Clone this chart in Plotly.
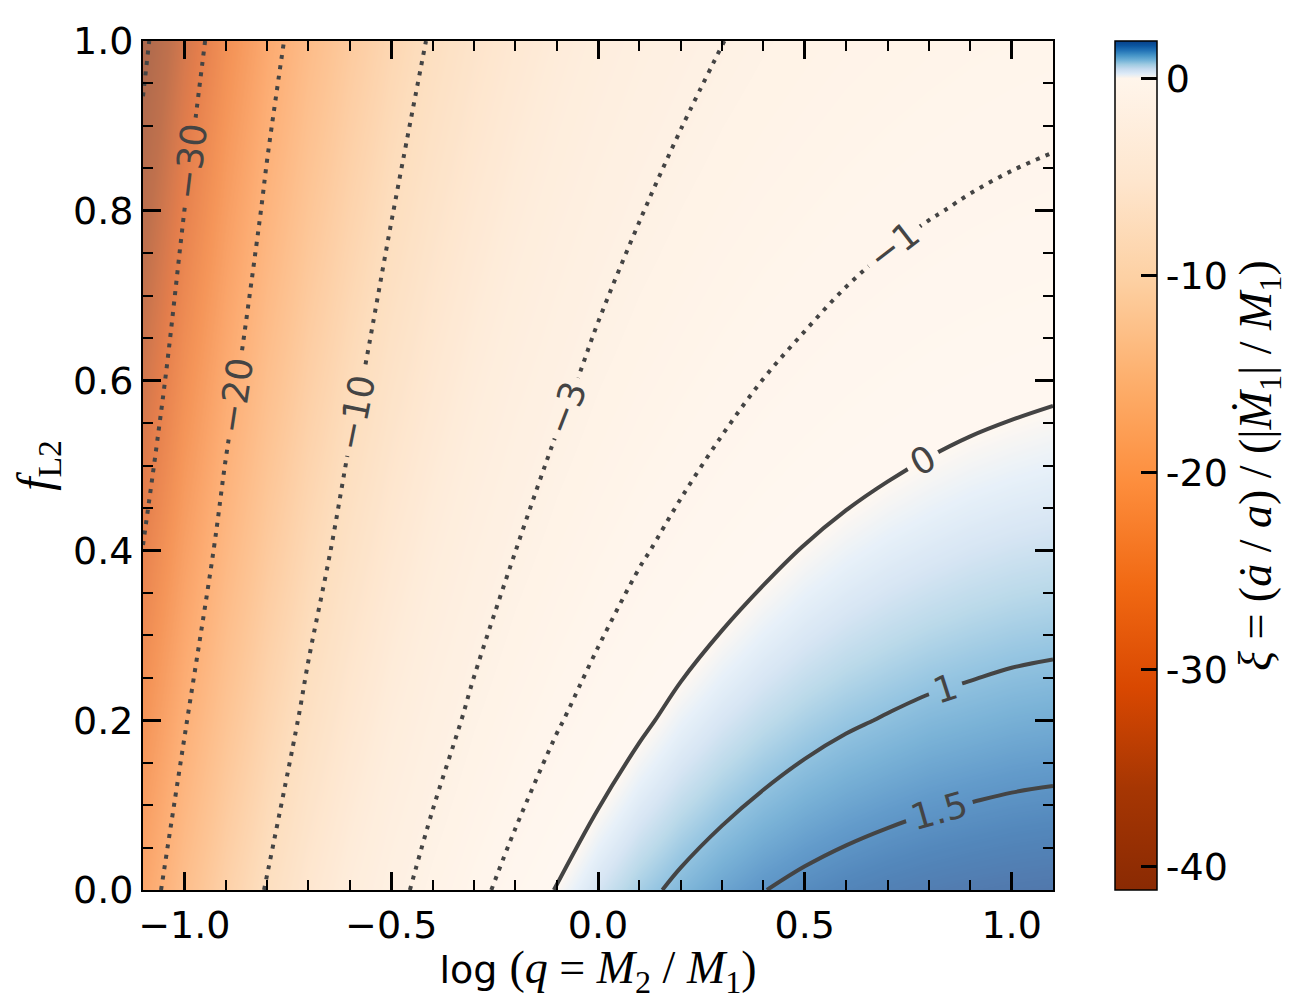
import plotly.graph_objects as go

# grid: columns = log q, rows = f_L2
log_q = [-1.1, -1.0, -0.9, -0.8, -0.7, -0.6, -0.5, -0.4, -0.3, -0.2, -0.1, 0.0,
         0.1, 0.2, 0.3, 0.4, 0.5, 0.6, 0.7, 0.8, 0.9, 1.0, 1.1]
f_l2 = [0.0, 0.2, 0.4, 0.6, 0.8, 1.0]

xi_f00 = [-22.25, -17.09, -13.00, -9.76, -7.19, -5.16, -3.57, -2.31, -1.32, -0.56, 0.04, 0.50,
          0.85, 1.12, 1.33, 1.49, 1.61, 1.70, 1.77, 1.82, 1.86, 1.89, 1.91]
xi_f02 = [-26.07, -20.32, -15.76, -12.14, -9.27, -7.00, -5.20, -3.78, -2.66, -1.78, -1.09, -0.55,
          -0.13, 0.21, 0.46, 0.66, 0.82, 0.94, 1.03, 1.11, 1.16, 1.21, 1.24]
xi_f04 = [-29.88, -23.55, -18.52, -14.52, -11.35, -8.83, -6.84, -5.25, -4.00, -3.01, -2.22, -1.60,
          -1.10, -0.72, -0.41, -0.17, 0.03, 0.18, 0.30, 0.39, 0.47, 0.53, 0.57]
xi_f06 = [-33.70, -26.77, -21.27, -16.90, -13.43, -10.67, -8.47, -6.73, -5.34, -4.23, -3.35, -2.64,
          -2.08, -1.64, -1.28, -0.99, -0.77, -0.58, -0.44, -0.32, -0.23, -0.16, -0.10]
xi_f08 = [-37.51, -30.00, -24.03, -19.29, -15.51, -12.51, -10.11, -8.20, -6.67, -5.45, -4.48, -3.69,
          -3.06, -2.56, -2.15, -1.82, -1.56, -1.34, -1.17, -1.04, -0.93, -0.84, -0.77]
xi_f10 = [-41.20, -33.23, -26.79, -21.67, -17.59, -14.34, -11.75, -9.67, -8.01, -6.68, -5.61, -4.74,
          -4.04, -3.48, -3.02, -2.65, -2.35, -2.10, -1.91, -1.75, -1.62, -1.52, -1.44]
xi = [xi_f00, xi_f02, xi_f04, xi_f06, xi_f08, xi_f10]

levels = [-40, -30, -20, -10, -3, -1, 0, 1, 1.5]
cbar_ticks = [0, -10, -20, -30, -40]
cbar_labels = ['0', '-10', '-20', '-30', '-40']

zmin, zmax = -41.2, 1.9

SERIF = 'Liberation Serif'
LINE = '#444444'

# two-slope colour map: Oranges below zero, Blues above
oranges = ['#8a2a03', '#a63603', '#d94801', '#f16913', '#fd8d3c',
           '#fdae6b', '#fdd0a2', '#fee6ce', '#fff5eb']
blues = ['#f7fbff', '#deebf7', '#c6dbef', '#9ecae1', '#6baed6',
         '#4292c6', '#2171b5', '#0b559f', '#08408a']
p0 = -zmin / (zmax - zmin)
colorscale = [[i / 8 * p0, c] for i, c in enumerate(oranges)]
colorscale += [[p0 + i / 8 * (1 - p0), c] for i, c in enumerate(blues)][1:]

fig = go.Figure()

fig.add_trace(
    go.Heatmap(
        x=log_q,
        y=f_l2,
        z=xi,
        zsmooth='best',
        zmin=zmin,
        zmax=zmax,
        colorscale=colorscale,
        opacity=0.7,
        hoverinfo='skip',
        colorbar=dict(
            x=1.0677,
            xanchor='left',
            y=0.5,
            yanchor='middle',
            len=1,
            lenmode='fraction',
            thickness=42,
            xpad=0,
            ypad=0,
            outlinewidth=1.5,
            outlinecolor='black',
            ticks='inside',
            ticklen=16,
            tickwidth=2.5,
            tickcolor='black',
            tickvals=cbar_ticks,
            ticktext=cbar_labels,
            tickfont=dict(size=38),
            title=dict(
                text='<i>ξ</i> = (<i>ȧ</i> / <i>a</i>) / (|<i>Ṁ</i><sub>1</sub>| / <i>M</i><sub>1</sub>)',
                side='right',
                font=dict(family=SERIF, size=46)
            )
        )
    )
)

for lev in levels:
    fig.add_trace(
        go.Contour(
            x=log_q,
            y=f_l2,
            z=xi,
            autocontour=False,
            contours=dict(
                start=lev,
                end=lev,
                size=1,
                coloring='none',
                showlabels=True,
                labelfont=dict(size=36, color=LINE)
            ),
            line=dict(
                color=LINE,
                width=4,
                dash='4px,6.5px' if lev < 0 else 'solid',
                smoothing=1
            ),
            showscale=False,
            hoverinfo='skip'
        )
    )

axis_common = dict(
    ticks='inside',
    ticklen=18,
    tickwidth=2.5,
    tickcolor='black',
    showline=True,
    linecolor='black',
    linewidth=2,
    mirror='allticks',
    showgrid=False,
    zeroline=False,
    tickformat='.1f',
    tickfont=dict(size=38)
)

fig.update_layout(
    width=1292,
    height=992,
    margin=dict(l=135, r=241, t=33, b=110),
    plot_bgcolor='white',
    paper_bgcolor='white',
    font=dict(family='DejaVu Sans', size=38, color='black'),
    showlegend=False,
    xaxis=dict(
        axis_common,
        range=[-1.1, 1.1],
        tickvals=[-1.0, -0.5, 0.0, 0.5, 1.0],
        minor=dict(dtick=0.1, tick0=0, ticks='inside', ticklen=10, tickwidth=1.5, tickcolor='black'),
        title=dict(
            text='log <span style="font-family:Liberation Serif;font-size:46px">(<i>q</i> = <i>M</i><sub>2</sub> / <i>M</i><sub>1</sub>)</span>',
            standoff=0,
            font=dict(size=38)
        )
    ),
    yaxis=dict(
        axis_common,
        range=[0, 1],
        dtick=0.2,
        minor=dict(dtick=0.05, tick0=0, ticks='inside', ticklen=10, tickwidth=1.5, tickcolor='black'),
        title=dict(
            text='<i>f</i><sub>L2</sub>',
            standoff=14,
            font=dict(family=SERIF, size=48)
        )
    )
)

fig.write_html('out.html')
